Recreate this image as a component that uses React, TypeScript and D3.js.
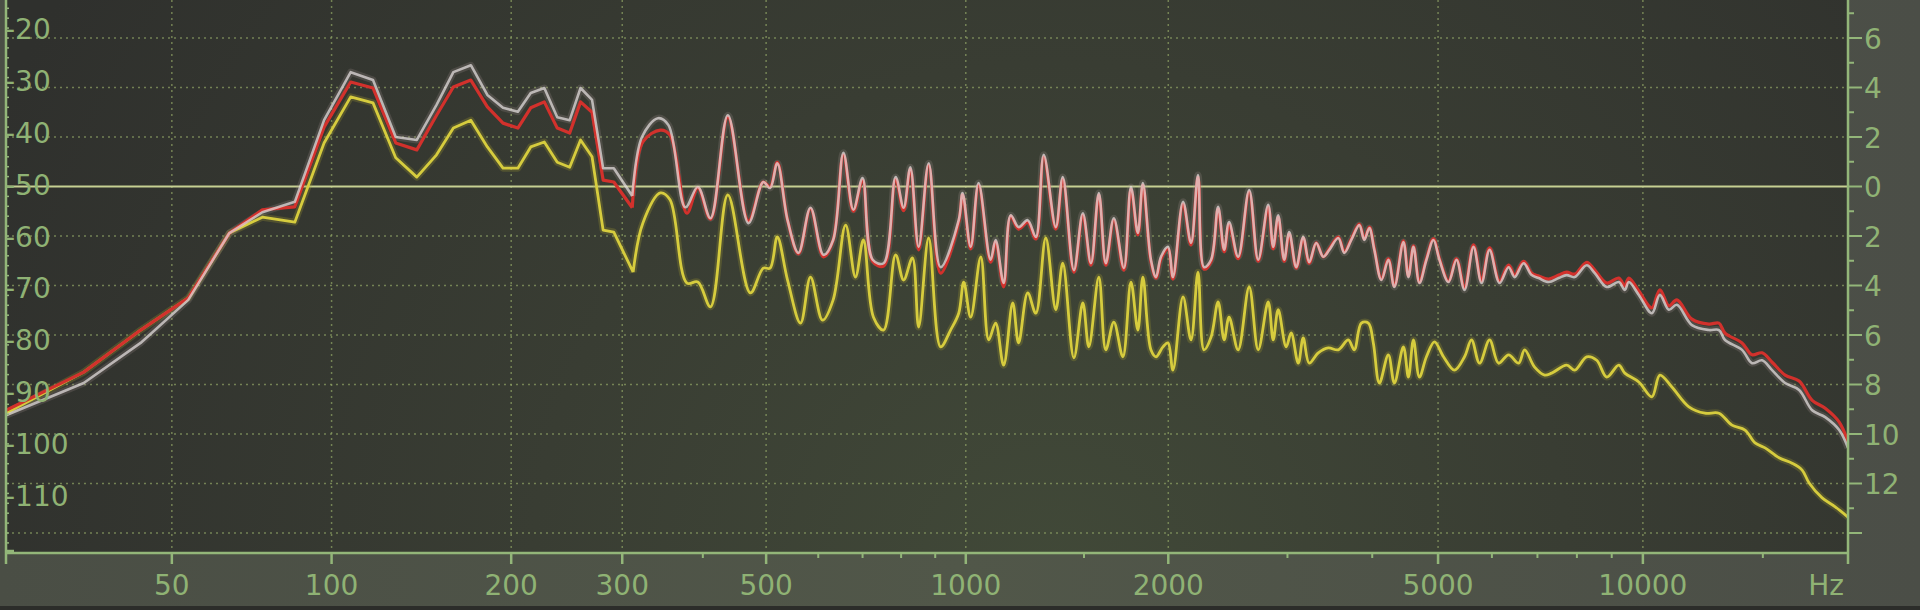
import React from 'react';
import * as d3 from 'd3';

const W = 1920;
const H = 610;
const plot = { left: 6, right: 1848, top: 0, bottom: 553 };

// axis ticks
const freqTicks = [50, 100, 200, 300, 500, 1000, 2000, 5000, 10000];
const freqMinorTicks = [400, 600, 700, 800, 900, 1500, 3000, 4000, 6000, 7000, 8000, 9000, 15000];
const dbGrid = [-20, -30, -40, -60, -70, -80, -90, -100, -110, -120];
const dbLabels = [-20, -30, -40, -50, -60, -70, -80, -90, -100, -110];
const refDb = -50;
const rightMajor = [6, 4, 2, 0, -2, -4, -6, -8, -10, -12, -14];
const rightLabeled = [6, 4, 2, 0, -2, -4, -6, -8, -10, -12];
const rightMinor = [7, 5, 3, 1, -1, -3, -5, -7, -9, -11, -13];

// spectra [Hz, dB]
const whiteSpectrum: [number, number][] = [
  [20, -96.2], [32, -89.7], [43, -81.6], [54, -72.9], [65, -59.4], [75, -55.2], [86, -53.1], [97, -36.6],
  [108, -26.9], [118, -28.5], [129, -40.0], [140, -40.6], [151, -33.5], [161, -26.9], [172, -25.5], [183, -31.5],
  [194, -34.1], [205, -34.9], [215, -31.1], [226, -30.1], [237, -36.0], [248, -36.6], [258, -30.1], [269, -32.5],
  [280, -46.3], [291, -46.3], [311, -51.9], [322, -40.0], [341, -36.2], [354, -37.6], [376, -54.2], [393, -50.1],
  [411, -56.4], [437, -35.6], [470, -57.4], [495, -49.1], [507, -50.3], [520, -45.3], [539, -56.8], [560, -63.4],
  [584, -54.3], [611, -63.8], [632, -60.8], [655, -43.2], [678, -54.7], [700, -48.3], [725, -64.8], [753, -65.5],
  [785, -48.1], [807, -54.3], [826, -46.1], [850, -62.2], [880, -45.3], [917, -66.3], [976, -56.8], [989, -51.3],
  [1017, -62.2], [1045, -49.3], [1089, -64.8], [1108, -60.8], [1139, -69.5], [1167, -55.8], [1199, -58.2], [1237, -56.8],
  [1272, -60.2], [1307, -43.6], [1362, -58.2], [1395, -48.1], [1449, -66.9], [1494, -55.4], [1536, -65.5], [1578, -51.3],
  [1616, -65.5], [1661, -56.4], [1719, -66.5], [1761, -50.1], [1803, -59.4], [1834, -49.3], [1885, -64.8], [1918, -68.3],
  [1951, -64.2], [1998, -62.2], [2032, -68.3], [2103, -53.1], [2161, -61.4], [2213, -47.7], [2259, -66.3], [2314, -64.8],
  [2370, -54.1], [2419, -62.8], [2460, -57.2], [2537, -64.2], [2634, -50.7], [2716, -64.8], [2810, -53.7], [2858, -62.2],
  [2907, -55.8], [2967, -64.8], [3018, -59.2], [3091, -66.3], [3165, -60.2], [3230, -65.3], [3308, -61.4], [3388, -64.2],
  [3458, -62.8], [3565, -60.4], [3639, -63.4], [3726, -60.8], [3829, -57.8], [3894, -60.8], [3961, -58.4], [4029, -62.8],
  [4126, -68.9], [4225, -64.8], [4312, -70.3], [4446, -61.2], [4522, -68.3], [4600, -62.2], [4694, -69.5], [4807, -64.8],
  [4923, -60.8], [5024, -64.8], [5180, -69.3], [5322, -64.8], [5469, -70.9], [5638, -62.2], [5793, -69.5], [5953, -62.8],
  [6158, -69.5], [6349, -66.3], [6480, -68.3], [6680, -65.5], [6864, -67.9], [7028, -68.5], [7271, -69.3], [7521, -68.5],
  [7728, -67.9], [7941, -68.3], [8270, -65.9], [8498, -67.5], [8850, -70.3], [9217, -69.3], [9407, -70.9], [9535, -69.3],
  [9863, -71.9], [10308, -75.6], [10591, -71.9], [10918, -74.9], [11218, -73.9], [11803, -78.0], [12502, -79.0], [12932, -79.0],
  [13198, -81.0], [13980, -83.0], [14462, -85.7], [14960, -85.1], [15475, -87.1], [16172, -89.7], [16955, -91.1], [17719, -95.2],
  [18516, -96.6], [19414, -99.2], [20000, -102.8],
];

const redSpectrum: [number, number][] = [
  [20, -95.2], [32, -87.5], [43, -79.0], [54, -72.5], [65, -59.4], [75, -54.7], [86, -54.1], [97, -38.0],
  [108, -28.9], [118, -30.1], [129, -41.2], [140, -42.6], [151, -35.6], [161, -29.9], [172, -28.5], [183, -33.9],
  [194, -37.2], [205, -38.2], [215, -34.1], [226, -32.9], [237, -38.2], [248, -39.2], [258, -32.9], [269, -35.0],
  [280, -48.7], [291, -49.1], [311, -54.3], [323, -41.0], [344, -38.6], [356, -39.6], [378, -55.4], [393, -50.3],
  [411, -56.6], [437, -36.0], [470, -57.0], [495, -49.1], [507, -50.1], [520, -45.1], [539, -56.8], [560, -63.6],
  [584, -54.5], [611, -64.2], [632, -60.8], [655, -43.6], [678, -55.0], [700, -48.7], [725, -65.1], [753, -66.1],
  [785, -48.5], [807, -54.9], [826, -46.5], [850, -62.8], [880, -45.7], [917, -67.5], [976, -57.2], [989, -51.7],
  [1017, -62.6], [1045, -49.7], [1089, -65.3], [1108, -61.2], [1139, -70.3], [1167, -56.0], [1199, -58.6], [1237, -57.2],
  [1272, -60.6], [1307, -44.0], [1362, -58.6], [1395, -48.5], [1449, -67.3], [1494, -55.8], [1536, -65.9], [1578, -51.7],
  [1616, -65.9], [1661, -56.8], [1719, -66.9], [1761, -50.5], [1803, -59.8], [1834, -49.7], [1885, -65.1], [1918, -68.5],
  [1951, -64.6], [1998, -62.6], [2032, -68.7], [2103, -53.5], [2161, -61.8], [2213, -48.1], [2259, -66.7], [2314, -65.1],
  [2370, -54.5], [2419, -63.2], [2460, -57.6], [2537, -64.6], [2634, -51.1], [2716, -65.1], [2810, -54.1], [2858, -62.6],
  [2907, -56.2], [2967, -65.1], [3018, -59.6], [3091, -66.5], [3165, -60.4], [3230, -65.5], [3308, -61.4], [3388, -64.2],
  [3458, -62.6], [3565, -60.2], [3639, -63.2], [3726, -60.6], [3829, -57.6], [3894, -60.6], [3961, -58.2], [4029, -62.6],
  [4126, -68.7], [4225, -64.6], [4312, -70.1], [4446, -61.0], [4522, -68.1], [4600, -62.0], [4694, -69.3], [4807, -64.6],
  [4923, -60.6], [5024, -64.6], [5180, -69.1], [5322, -64.6], [5469, -70.5], [5638, -61.8], [5793, -69.1], [5953, -62.4],
  [6158, -69.1], [6349, -65.9], [6480, -67.9], [6680, -65.1], [6864, -67.5], [7028, -68.1], [7271, -68.7], [7521, -67.9],
  [7728, -67.3], [7941, -67.7], [8270, -65.3], [8498, -66.9], [8850, -69.5], [9217, -68.5], [9407, -70.1], [9535, -68.5],
  [9863, -71.1], [10308, -74.5], [10591, -70.9], [10918, -74.1], [11218, -72.9], [11803, -76.8], [12502, -77.8], [12932, -77.6],
  [13198, -79.6], [13980, -81.6], [14462, -84.0], [14960, -83.6], [15475, -85.5], [16172, -88.1], [16955, -89.3], [17719, -93.2],
  [18516, -94.8], [19414, -97.6], [20000, -101.6],
];

const yellowSpectrum: [number, number][] = [
  [20, -95.8], [32, -87.5], [43, -79.0], [54, -72.5], [65, -59.4], [75, -56.2], [86, -57.2], [97, -41.2],
  [108, -31.9], [118, -33.1], [129, -44.2], [140, -48.1], [151, -43.6], [161, -38.2], [172, -36.6], [183, -42.0],
  [194, -46.3], [205, -46.3], [215, -42.0], [226, -41.0], [237, -45.1], [248, -46.1], [258, -40.6], [269, -44.0],
  [280, -58.8], [291, -59.2], [312, -67.3], [323, -57.4], [344, -51.3], [356, -52.7], [378, -69.5], [393, -69.3],
  [411, -74.3], [437, -51.7], [473, -71.5], [495, -66.5], [507, -66.5], [520, -60.2], [539, -68.9], [564, -77.6],
  [584, -68.3], [609, -77.0], [632, -72.9], [660, -57.8], [683, -68.3], [702, -60.8], [727, -76.4], [753, -79.0],
  [785, -63.8], [807, -68.9], [832, -64.4], [850, -78.4], [880, -60.4], [917, -82.4], [949, -79.0], [976, -75.6],
  [993, -69.3], [1017, -76.4], [1053, -64.2], [1082, -81.0], [1108, -77.6], [1139, -86.1], [1175, -73.5], [1199, -81.6],
  [1237, -71.5], [1272, -75.6], [1316, -60.4], [1362, -74.9], [1395, -65.5], [1449, -84.6], [1494, -73.5], [1525, -82.4],
  [1578, -68.3], [1616, -83.0], [1661, -77.4], [1713, -84.4], [1761, -69.3], [1803, -79.0], [1834, -68.3], [1885, -83.0],
  [1918, -84.4], [1964, -82.4], [1998, -81.6], [2032, -87.1], [2103, -72.3], [2161, -81.0], [2213, -67.3], [2259, -83.0],
  [2314, -80.4], [2370, -73.3], [2419, -81.0], [2460, -76.4], [2537, -83.0], [2634, -70.3], [2716, -83.0], [2810, -73.3],
  [2858, -81.0], [2907, -74.9], [2987, -82.4], [3038, -79.6], [3112, -85.7], [3165, -80.6], [3230, -85.7], [3331, -83.6],
  [3446, -82.6], [3565, -83.0], [3688, -81.0], [3764, -83.0], [3855, -77.6], [3948, -77.6], [4015, -81.6], [4098, -89.7],
  [4225, -84.0], [4312, -89.7], [4446, -82.4], [4522, -88.5], [4600, -81.0], [4694, -88.5], [4807, -84.4], [4940, -81.4],
  [5093, -84.4], [5286, -87.1], [5469, -84.4], [5600, -81.0], [5754, -85.7], [5953, -81.0], [6137, -85.7], [6349, -84.0],
  [6568, -85.7], [6703, -83.0], [6934, -86.5], [7173, -88.1], [7345, -87.7], [7728, -86.1], [7941, -87.1], [8270, -84.4],
  [8555, -85.1], [8850, -88.5], [9217, -86.1], [9407, -87.7], [9863, -89.5], [10308, -92.5], [10591, -88.1], [11030, -90.5],
  [11683, -94.5], [12335, -95.8], [12932, -95.8], [13515, -98.2], [14123, -99.2], [14610, -101.8], [15113, -102.8], [15845, -104.8],
  [16559, -105.9], [17129, -107.3], [17539, -109.9], [18329, -112.9], [19154, -114.7], [20000, -116.8],
];

// below this the analyser joins its bins with straight segments
const smoothFrom = 300;

const labelColor = '#8fb274';
const axisColor = '#93b679';

const x = d3.scaleSymlog().constant(20).domain([20, 20000]).range([plot.left, plot.right]);
const y = d3.scaleLinear().domain([-20, -120]).range([38, 533]);
// right-hand scale is relative to the 0 reference line, 5 dB per unit
const yRight = d3.scaleLinear().domain([6, -14]).range([y(-20), y(-120)]);
// left labels are laid out slightly wider apart than the grid
const yLeftLabel = d3.scaleLinear().domain([-20, -110]).range([29, 496]);

const straight = d3.line<[number, number]>().x(d => x(d[0])).y(d => y(d[1]));
const smooth = d3.line<[number, number]>()
  .x(d => x(d[0]))
  .y(d => y(d[1]))
  .curve(d3.curveCatmullRom.alpha(0.5));

function spectrumPath(data: [number, number][]) {
  const cut = data.findIndex(d => d[0] >= smoothFrom);
  const low = data.slice(0, cut + 1);
  const high = data.slice(cut);
  return (straight(low) ?? '') + (smooth(high) ?? '');
}

export default function App() {
  const leftMinor = d3.range(-12, -125, -2);
  const yellowD = spectrumPath(yellowSpectrum);
  const redD = spectrumPath(redSpectrum);
  const whiteD = spectrumPath(whiteSpectrum);
  return (
    <svg width={W} height={H} style={{ position: 'fixed', left: 0, top: 0, display: 'block' }} fontFamily="'DejaVu Sans', sans-serif">
      <defs>
        <linearGradient id="frameBg" x1="0" y1="0" x2="1" y2="0">
          <stop offset="0" stopColor="#4a4e45" />
          <stop offset="0.5" stopColor="#515749" />
          <stop offset="1" stopColor="#4b4e47" />
        </linearGradient>
        <radialGradient id="plotBg" cx="1050" cy="580" r="1150" gradientUnits="userSpaceOnUse">
          <stop offset="0" stopColor="#414938" />
          <stop offset="0.45" stopColor="#393d33" />
          <stop offset="1" stopColor="#2f302d" />
        </radialGradient>
        <clipPath id="plotClip">
          <rect x={plot.left} y={plot.top} width={plot.right - plot.left} height={plot.bottom - plot.top} />
        </clipPath>
      </defs>

      <rect x={0} y={0} width={W} height={H} fill="url(#frameBg)" />
      <rect x={0} y={606} width={W} height={4} fill="#2c2d2a" />
      <rect x={plot.left} y={plot.top} width={plot.right - plot.left} height={plot.bottom - plot.top} fill="url(#plotBg)" />

      {/* grid */}
      <g stroke="#8a9c62" strokeOpacity={0.75} strokeWidth={1.5} strokeDasharray="2 4">
        {dbGrid.map(v => (
          <line key={'h' + v} x1={plot.left} x2={plot.right} y1={y(v)} y2={y(v)} />
        ))}
        {freqTicks.map(f => (
          <line key={'v' + f} x1={x(f)} x2={x(f)} y1={plot.top} y2={plot.bottom} />
        ))}
      </g>
      <line x1={plot.left} x2={plot.right} y1={y(refDb)} y2={y(refDb)} stroke="#c6d092" strokeWidth={2} />

      {/* spectra */}
      <g clipPath="url(#plotClip)" fill="none" strokeLinejoin="round">
        <path d={yellowD} stroke="#a8a030" strokeOpacity={0.25} strokeWidth={7} />
        <path d={whiteD} stroke="#b09a9a" strokeOpacity={0.2} strokeWidth={7} />
        <path d={yellowD} stroke="#d6cc3e" strokeWidth={2.8} />
        <path d={redD} stroke="#d2312c" strokeWidth={3.2} />
        <path d={whiteD} stroke="#e6e0e0" strokeOpacity={0.72} strokeWidth={2.6} />
      </g>

      {/* axes */}
      <g stroke={axisColor} strokeWidth={2.5}>
        <line x1={plot.left} x2={plot.left} y1={0} y2={564} />
        <line x1={plot.right} x2={plot.right} y1={0} y2={564} />
        <line x1={plot.left} x2={plot.right} y1={plot.bottom} y2={plot.bottom} />
        <line x1={plot.left} x2={plot.left + 8} y1={plot.bottom - 2} y2={plot.bottom - 2} />
        {freqTicks.map(f => (
          <line key={'t' + f} x1={x(f)} x2={x(f)} y1={plot.bottom} y2={plot.bottom + 11} />
        ))}
        {freqMinorTicks.map(f => (
          <line key={'m' + f} x1={x(f)} x2={x(f)} y1={plot.bottom} y2={plot.bottom + 5} strokeWidth={2} />
        ))}
        {rightMajor.map(v => (
          <line key={'r' + v} x1={plot.right} x2={plot.right + 14} y1={yRight(v)} y2={yRight(v)} strokeWidth={2} />
        ))}
        {rightMinor.map(v => (
          <line key={'rm' + v} x1={plot.right} x2={plot.right + 6} y1={yRight(v)} y2={yRight(v)} strokeWidth={2} />
        ))}
        {leftMinor.map(v => (
          <line key={'lm' + v} x1={plot.left} x2={plot.left + 3} y1={y(v)} y2={y(v)} strokeWidth={1.5} />
        ))}
      </g>

      {/* labels */}
      <g fill={labelColor} fontSize={28}>
        {dbLabels.map(v => (
          <text key={'l' + v} x={5} y={yLeftLabel(v) + 10}>{String(v)}</text>
        ))}
        {rightLabeled.map(v => (
          <text key={'rl' + v} x={1864} y={yRight(v) + 10.5}>{String(Math.abs(v))}</text>
        ))}
        {freqTicks.map(f => (
          <text key={'fl' + f} x={x(f)} y={595} textAnchor="middle">{String(f)}</text>
        ))}
        <text x={1844} y={595} textAnchor="end">Hz</text>
      </g>
    </svg>
  );
}
